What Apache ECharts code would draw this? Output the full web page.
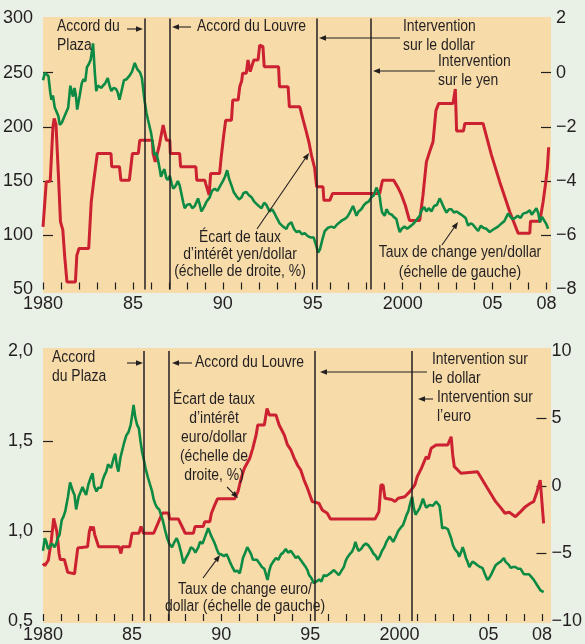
<!DOCTYPE html>
<html>
<head>
<meta charset="utf-8">
<script src="https://cdn.jsdelivr.net/npm/echarts@6/dist/echarts.min.js"></script>
<style>
  html, body { margin: 0; padding: 0; background: #e9f1e6; }
  #chart { width: 585px; height: 644px; }
</style>
</head>
<body>
<div id="chart"></div>
<script>
// yen/dollar exchange rate (left scale) [year, yen per dollar]
const yenFx = [
  [1980.00,243],[1980.10,250],[1980.19,249],[1980.30,247],[1980.40,232],[1980.47,225],[1980.55,229],[1980.65,218],
  [1980.75,214],[1980.85,210],[1980.93,202],[1981.05,204],[1981.20,210],[1981.40,218],[1981.52,238],[1981.60,232],
  [1981.67,228],[1981.75,236],[1981.82,230],[1981.90,216],[1982.04,229],[1982.15,240],[1982.25,244],[1982.35,242],
  [1982.44,255],[1982.55,258],[1982.65,262],[1982.78,277],[1982.88,250],[1982.96,233],[1983.05,238],[1983.15,239],
  [1983.25,236],[1983.33,238],[1983.45,240],[1983.60,245],[1983.70,238],[1983.80,233],[1983.92,236],[1984.06,235],
  [1984.15,232],[1984.25,225],[1984.35,232],[1984.50,243],[1984.65,244],[1984.80,247],[1984.95,251],[1985.10,259],
  [1985.25,253],[1985.40,250],[1985.50,245],[1985.64,225],[1985.75,213],[1985.83,207],[1986.00,195],[1986.10,185],
  [1986.20,174],[1986.30,176],[1986.40,169],[1986.50,160],[1986.56,154],[1986.65,158],[1986.75,161],[1986.85,153],
  [1986.94,151],[1987.05,155],[1987.15,148],[1987.24,143],[1987.35,145],[1987.50,150],[1987.60,146],[1987.70,138],
  [1987.80,130],[1987.88,125],[1988.00,128],[1988.16,129],[1988.30,125],[1988.44,127],[1988.62,134],[1988.72,128],
  [1988.81,122],[1988.95,126],[1989.09,131],[1989.27,135],[1989.40,141],[1989.55,143],[1989.70,141],[1989.83,145],
  [1990.00,150],[1990.12,154],[1990.24,160],[1990.35,152],[1990.48,146],[1990.60,140],[1990.76,136],[1990.90,133],
  [1991.04,135],[1991.15,139],[1991.31,140],[1991.45,137],[1991.60,135],[1991.75,131],[1991.87,129],[1992.00,127],
  [1992.15,125],[1992.30,130],[1992.42,128],[1992.60,122],[1992.75,124],[1992.88,120],[1993.00,116],[1993.16,111],
  [1993.35,108],[1993.53,106],[1993.65,110],[1993.81,112],[1993.95,106],[1994.09,103],[1994.25,104],[1994.40,101],
  [1994.55,102],[1994.74,99],[1994.90,98],[1995.05,98],[1995.20,90],[1995.30,84],[1995.40,87],[1995.55,97],
  [1995.67,104],[1995.85,107],[1996.04,108],[1996.20,107],[1996.35,110],[1996.50,112],[1996.65,114],[1996.78,115],
  [1996.92,117],[1997.06,121],[1997.24,127],[1997.35,122],[1997.43,118],[1997.55,122],[1997.70,124],[1997.85,128],
  [1997.98,130],[1998.10,131],[1998.26,135],[1998.40,137],[1998.54,144],[1998.65,140],[1998.73,135],[1998.80,126],
  [1998.86,121],[1999.00,118],[1999.10,124],[1999.25,120],[1999.40,119],[1999.50,117],[1999.65,115],[1999.75,108],
  [1999.84,103],[1999.95,106],[2000.10,108],[2000.25,106],[2000.40,108],[2000.55,110],[2000.67,112],[2000.85,116],
  [2000.95,118],[2001.05,123],[2001.20,126],[2001.32,122],[2001.45,125],[2001.60,122],[2001.75,127],[2001.90,128],
  [2002.06,134],[2002.15,131],[2002.28,126],[2002.44,121],[2002.58,124],[2002.71,124],[2002.85,121],[2003.00,122],
  [2003.17,120],[2003.35,118],[2003.50,116],[2003.64,109],[2003.78,111],[2003.90,110],[2004.05,107],[2004.20,104],
  [2004.35,109],[2004.47,107],[2004.65,106],[2004.84,103],[2004.95,104],[2005.10,106],[2005.30,108],[2005.50,111],
  [2005.65,113],[2005.86,120],[2006.00,117],[2006.10,115],[2006.25,116],[2006.40,118],[2006.55,116],[2006.70,120],
  [2006.90,121],[2007.07,123],[2007.18,119],[2007.26,118],[2007.44,125],[2007.55,120],[2007.63,112],[2007.75,117],
  [2007.85,116],[2008.00,110],[2008.09,106]
];

// yen/dollar interest rate differential (right scale, %)
const yenDiff = [
  [1980.00,-5.69],[1980.10,-5.70],[1980.18,-4.03],[1980.40,-4.00],[1980.55,-2.0],[1980.62,-1.69],[1980.72,-1.9],
  [1980.85,-3.7],[1980.97,-5.5],[1981.10,-5.8],[1981.20,-6.74],[1981.33,-7.72],[1981.80,-7.72],[1981.88,-6.74],
  [1982.00,-6.49],[1982.54,-6.49],[1982.68,-4.77],[1982.80,-4.1],[1983.02,-2.98],[1983.78,-2.98],[1983.82,-3.47],
  [1984.25,-3.47],[1984.33,-3.97],[1984.80,-3.97],[1984.97,-2.98],[1985.30,-2.98],[1985.38,-2.49],[1986.08,-2.49],
  [1986.12,-2.98],[1986.24,-3.29],[1986.45,-2.73],[1986.68,-1.93],[1986.86,-2.49],[1987.05,-2.49],[1987.08,-2.98],
  [1987.60,-2.98],[1987.65,-3.47],[1988.50,-3.47],[1988.55,-3.97],[1989.00,-3.97],[1989.05,-4.1],[1989.24,-4.52],
  [1989.32,-3.72],[1989.82,-3.72],[1989.90,-3.17],[1990.05,-2.3],[1990.16,-1.75],[1990.48,-1.75],[1990.55,-1.01],
  [1990.85,-1.01],[1990.94,-0.52],[1991.05,-0.3],[1991.10,-0.02],[1991.30,-0.02],[1991.40,0.47],[1991.52,0.04],
  [1991.62,0.1],[1991.72,0.47],[1991.96,0.47],[1992.05,1.02],[1992.23,0.96],[1992.30,0.22],[1993.10,0.22],
  [1993.15,-0.52],[1993.63,-0.52],[1993.70,-1.26],[1994.28,-1.26],[1994.47,-1.75],[1994.65,-2.2],[1994.80,-2.6],
  [1994.93,-3.05],[1995.10,-3.5],[1995.22,-4.21],[1995.57,-4.21],[1995.62,-4.71],[1995.95,-4.71],[1996.10,-4.46],
  [1998.72,-4.46],[1998.88,-3.97],[1999.50,-3.97],[1999.75,-4.25],[1999.93,-4.5],[2000.15,-4.9],[2000.38,-5.45],
  [2000.95,-5.45],[2001.13,-4.52],[2001.32,-3.29],[2001.50,-2.92],[2001.69,-2.55],[2001.85,-1.4],[2002.00,-1.14],
  [2002.80,-1.14],[2002.93,-0.6],[2003.00,-2.15],[2003.38,-2.15],[2003.46,-1.87],[2004.47,-1.87],[2004.94,-3.04],
  [2005.40,-4.03],[2005.96,-5.14],[2006.42,-5.92],[2007.07,-5.92],[2007.11,-5.48],[2007.63,-5.48],[2007.81,-4.77],
  [2007.96,-4.03],[2008.05,-3.5],[2008.12,-2.75]
];

// euro/dollar exchange rate (left scale)
const euroFx = [
  [1980.00,0.89],[1980.10,0.96],[1980.19,0.94],[1980.28,0.90],[1980.37,0.91],[1980.50,0.93],[1980.65,0.91],[1980.74,0.93],
  [1980.83,0.96],[1980.93,0.98],[1981.05,1.06],[1981.15,1.08],[1981.25,1.11],[1981.40,1.19],[1981.52,1.27],[1981.58,1.26],
  [1981.68,1.22],[1981.77,1.20],[1981.86,1.12],[1982.00,1.19],[1982.12,1.22],[1982.22,1.245],[1982.32,1.22],[1982.42,1.20],
  [1982.55,1.26],[1982.69,1.30],[1982.78,1.32],[1982.87,1.25],[1983.00,1.22],[1983.10,1.24],[1983.25,1.24],[1983.34,1.28],
  [1983.45,1.31],[1983.55,1.33],[1983.65,1.37],[1983.71,1.37],[1983.82,1.35],[1983.95,1.40],[1984.05,1.43],[1984.15,1.36],
  [1984.23,1.33],[1984.35,1.41],[1984.45,1.45],[1984.55,1.49],[1984.67,1.53],[1984.80,1.55],[1984.92,1.59],[1985.00,1.64],
  [1985.08,1.70],[1985.18,1.63],[1985.28,1.59],[1985.38,1.57],[1985.47,1.50],[1985.56,1.44],[1985.65,1.40],[1985.75,1.35],
  [1985.88,1.30],[1986.03,1.25],[1986.12,1.22],[1986.20,1.18],[1986.30,1.15],[1986.40,1.13],[1986.52,1.12],[1986.62,1.09],
  [1986.72,1.06],[1986.86,1.00],[1986.97,0.96],[1987.08,0.93],[1987.24,0.91],[1987.38,0.94],[1987.50,0.96],[1987.62,0.93],
  [1987.75,0.88],[1987.88,0.82],[1988.02,0.85],[1988.16,0.875],[1988.30,0.91],[1988.44,0.90],[1988.55,0.88],[1988.62,0.87],
  [1988.72,0.91],[1988.81,0.94],[1988.95,0.93],[1989.10,0.97],[1989.27,1.015],[1989.37,0.99],[1989.45,0.97],[1989.55,0.95],
  [1989.64,0.93],[1989.75,0.90],[1989.85,0.875],[1990.00,0.87],[1990.15,0.86],[1990.30,0.87],[1990.40,0.85],[1990.48,0.83],
  [1990.62,0.80],[1990.76,0.775],[1990.90,0.78],[1991.04,0.765],[1991.12,0.80],[1991.22,0.85],[1991.35,0.88],[1991.46,0.91],
  [1991.58,0.89],[1991.68,0.87],[1991.78,0.84],[1991.87,0.83],[1992.00,0.84],[1992.15,0.82],[1992.28,0.80],[1992.42,0.79],
  [1992.52,0.755],[1992.60,0.728],[1992.70,0.78],[1992.79,0.81],[1992.92,0.83],[1993.07,0.85],[1993.20,0.84],[1993.35,0.87],
  [1993.48,0.88],[1993.62,0.90],[1993.75,0.88],[1993.90,0.89],[1994.05,0.87],[1994.18,0.85],[1994.30,0.86],[1994.45,0.84],
  [1994.60,0.82],[1994.74,0.80],[1994.85,0.78],[1994.93,0.755],[1995.05,0.74],[1995.20,0.71],[1995.35,0.72],[1995.50,0.73],
  [1995.62,0.72],[1995.76,0.755],[1995.90,0.75],[1996.04,0.76],[1996.18,0.77],[1996.32,0.783],[1996.45,0.77],[1996.60,0.755],
  [1996.75,0.78],[1996.88,0.80],[1996.97,0.83],[1997.06,0.85],[1997.20,0.87],[1997.34,0.885],[1997.45,0.91],[1997.53,0.94],
  [1997.62,0.91],[1997.70,0.89],[1997.85,0.90],[1997.98,0.92],[1998.12,0.93],[1998.26,0.92],[1998.40,0.90],[1998.54,0.875],
  [1998.68,0.86],[1998.78,0.84],[1998.90,0.86],[1999.00,0.885],[1999.15,0.91],[1999.27,0.94],[1999.38,0.95],[1999.45,0.97],
  [1999.55,0.955],[1999.65,0.94],[1999.80,0.97],[1999.93,1.00],[2000.08,1.02],[2000.20,1.033],[2000.30,1.06],[2000.40,1.09],
  [2000.50,1.11],[2000.58,1.144],[2000.65,1.17],[2000.71,1.19],[2000.80,1.13],[2000.90,1.09],[2001.00,1.10],[2001.13,1.126],
  [2001.22,1.15],[2001.32,1.18],[2001.42,1.15],[2001.50,1.13],[2001.60,1.12],[2001.69,1.144],[2001.80,1.15],[2001.88,1.14],
  [2001.97,1.15],[2002.06,1.163],[2002.15,1.16],[2002.25,1.14],[2002.33,1.08],[2002.40,1.015],[2002.52,1.02],[2002.62,1.015],
  [2002.72,1.01],[2002.80,1.00],[2002.90,0.96],[2003.00,0.922],[2003.10,0.90],[2003.17,0.91],[2003.27,0.88],[2003.35,0.857],
  [2003.45,0.88],[2003.55,0.91],[2003.65,0.88],[2003.73,0.85],[2003.82,0.83],[2003.92,0.80],[2004.02,0.81],[2004.10,0.83],
  [2004.25,0.82],[2004.38,0.81],[2004.52,0.80],[2004.66,0.795],[2004.80,0.76],[2004.94,0.728],[2005.04,0.74],[2005.13,0.755],
  [2005.25,0.78],[2005.40,0.81],[2005.52,0.82],[2005.68,0.83],[2005.86,0.85],[2005.95,0.83],[2006.05,0.82],[2006.15,0.81],
  [2006.24,0.795],[2006.38,0.80],[2006.51,0.80],[2006.65,0.79],[2006.80,0.79],[2006.90,0.78],[2006.98,0.76],[2007.10,0.76],
  [2007.26,0.76],[2007.40,0.745],[2007.53,0.73],[2007.62,0.72],[2007.72,0.70],[2007.82,0.685],[2007.90,0.672],[2008.00,0.67],
  [2008.09,0.66]
];

// euro/dollar interest rate differential (right scale, %)
const euroDiff = [
  [1980.00,-5.73],[1980.10,-5.9],[1980.20,-5.98],[1980.30,-5.5],[1980.47,-4.0],[1980.60,-2.4],[1980.65,-2.5],[1980.78,-3.4],
  [1980.90,-5.0],[1980.97,-5.45],[1981.20,-5.45],[1981.39,-6.4],[1981.77,-6.5],[1981.95,-4.6],[1982.50,-4.5],[1982.60,-3.38],
  [1982.68,-3.0],[1982.75,-3.3],[1982.82,-3.0],[1982.90,-3.6],[1983.00,-3.5],[1983.12,-4.5],[1984.27,-4.5],[1984.37,-5.0],
  [1984.45,-4.5],[1984.86,-4.5],[1985.00,-3.5],[1985.38,-3.5],[1985.50,-3.0],[1985.64,-3.5],[1986.21,-3.5],[1986.49,-2.64],
  [1986.70,-2.0],[1987.05,-2.0],[1987.10,-2.45],[1987.60,-2.45],[1987.80,-3.0],[1987.98,-3.5],[1988.44,-3.5],[1988.53,-3.0],
  [1988.99,-3.0],[1989.08,-2.64],[1989.36,-2.64],[1989.45,-2.02],[1989.64,-1.4],[1989.79,-0.95],[1990.75,-0.95],[1990.94,-0.42],
  [1991.12,0.57],[1991.30,1.31],[1991.60,2.05],[1991.77,2.79],[1991.96,3.78],[1992.05,4.52],[1992.42,4.52],[1992.57,5.75],
  [1992.70,5.26],[1993.07,5.26],[1993.25,4.52],[1993.54,3.78],[1993.72,3.04],[1993.90,2.7],[1994.10,2.05],[1994.30,1.5],
  [1994.46,1.19],[1994.65,0.44],[1994.84,-0.17],[1995.11,-1.16],[1995.48,-1.28],[1995.67,-1.78],[1995.95,-2.02],[1996.13,-2.45],
  [1998.63,-2.45],[1998.85,-1.9],[1998.96,0.07],[1999.08,0.07],[1999.19,-0.91],[1999.56,-1.0],[1999.75,-1.15],[1999.93,-0.91],
  [2000.30,-0.8],[2000.58,-0.42],[2000.86,0.07],[2001.00,0.69],[2001.23,1.31],[2001.50,2.17],[2001.62,2.0],[2001.78,2.79],
  [2002.06,3.04],[2002.71,3.04],[2002.90,3.65],[2002.99,2.3],[2003.08,1.43],[2003.27,1.19],[2003.45,0.94],[2003.55,1.05],
  [2004.38,1.05],[2004.94,-0.17],[2005.40,-1.16],[2005.68,-1.6],[2005.92,-2.02],[2006.16,-1.95],[2006.51,-2.27],[2006.80,-1.9],
  [2007.07,-1.53],[2007.35,-1.28],[2007.53,-1.16],[2007.72,-0.42],[2007.90,0.44],[2008.00,0.3],[2008.09,-2.77]
];

// event dates (vertical lines)
const topEvents = [1985.64, 1987.07, 1995.24, 1998.22];
const bottomEvents = [1985.64, 1987.07, 1995.24, 2000.67];

const yearLabels = {1980: '1980', 1985: '85', 1990: '90', 1995: '95', 2000: '2000', 2005: '05', 2008: '08'};
const yearTicks = [];
for (let y = 1980; y <= 2008; y++) yearTicks.push(y);

const INK = '#231f20';
const RED = '#cc2131';
const GREEN = '#0d8a43';
const TAN = '#f7dcaa';
const FONT = '"Liberation Sans", Arial, sans-serif';

const chart = echarts.init(document.getElementById('chart'), null, {renderer: 'canvas'});

function xAxisFor(gridIndex) {
  return {
    type: 'value', gridIndex: gridIndex, min: 1980, max: 2008.25,
    axisLine: {show: false, onZero: false},
    axisTick: {show: true, inside: true, length: 7, customValues: yearTicks, lineStyle: {color: INK, width: 1.2}},
    axisLabel: {
      customValues: Object.keys(yearLabels).map(Number),
      formatter: v => yearLabels[v] || '',
      fontFamily: FONT, fontSize: 18, color: INK, margin: gridIndex === 0 ? 6 : 5
    },
    splitLine: {show: false}
  };
}

function yAxisFor(gridIndex, pos, min, max, interval, ticks, fmt) {
  return {
    type: 'value', gridIndex: gridIndex, position: pos, min: min, max: max, interval: interval,
    axisLine: {show: false, onZero: false},
    axisTick: {show: true, inside: true, length: 10, customValues: ticks, lineStyle: {color: INK, width: 1.2}},
    axisLabel: {fontFamily: FONT, fontSize: 18, color: INK, margin: pos === 'left' ? 10 : 5, formatter: fmt},
    splitLine: {show: false}
  };
}

const minus = v => String(v).replace('-', '\u2212');

function eventLines(dates) {
  return {
    silent: true, symbol: ['none', 'none'], animation: false,
    label: {show: false},
    lineStyle: {color: INK, width: 1.5, type: 'solid'},
    data: dates.map(d => ({xAxis: d}))
  };
}

// annotation helpers (pixel positions), condensed by horizontal scaling
function note(x, y, text, align, lh) {
  return {
    type: 'text', x: x, y: y - lh / 2, z: 100, scaleX: 0.87,
    style: {text: text, font: '16px ' + FONT, fill: INK, align: align, verticalAlign: 'top', lineHeight: lh}
  };
}
function arrow(x1, y1, x2, y2) {
  const a = Math.atan2(y2 - y1, x2 - x1), L = 7, W = 2.8;
  const bx = x2 - L * Math.cos(a), by = y2 - L * Math.sin(a);
  const px = -Math.sin(a) * W, py = Math.cos(a) * W;
  return [
    {type: 'line', z: 100, shape: {x1: x1, y1: y1, x2: bx, y2: by}, style: {stroke: INK, lineWidth: 1.1}},
    {type: 'polygon', z: 100, shape: {points: [[x2, y2], [bx + px, by + py], [bx - px, by - py]]}, style: {fill: INK}}
  ];
}

const graphics = [
  {type: 'rect', z: -10, shape: {x: 43, y: 17, width: 508, height: 276}, style: {fill: TAN}},
  {type: 'rect', z: -10, shape: {x: 43, y: 348, width: 508, height: 275}, style: {fill: TAN}},
  // top panel
  note(57, 27, 'Accord du\nPlaza', 'left', 19),
  ...arrow(127, 29, 143, 29),
  ...arrow(191, 27, 172, 27),
  note(197, 27, 'Accord du Louvre', 'left', 19),
  note(403, 27, 'Intervention\nsur le dollar', 'left', 19),
  ...arrow(400, 38, 319, 38),
  note(438, 62, 'Intervention\nsur le yen', 'left', 19),
  ...arrow(435, 71, 373, 71),
  note(240, 238, '\u00c9cart de taux\nd\u2019int\u00e9r\u00eat yen/dollar\n(\u00e9chelle de droite, %)', 'center', 17),
  ...arrow(257, 229, 309, 153),
  note(460, 253, 'Taux de change yen/dollar\n(\u00e9chelle de gauche)', 'center', 20),
  ...arrow(442, 245, 458, 222),
  // bottom panel
  note(52, 358, 'Accord\ndu Plaza', 'left', 19),
  ...arrow(127, 363, 143, 363),
  ...arrow(192, 363, 172, 363),
  note(195, 363, 'Accord du Louvre', 'left', 19),
  note(214, 400, '\u00c9cart de taux\nd\u2019int\u00e9r\u00eat\neuro/dollar\n(\u00e9chelle de\ndroite, %)', 'center', 19),
  ...arrow(227, 487, 238, 498),
  note(245, 590, 'Taux de change euro/\ndollar (\u00e9chelle de gauche)', 'center', 17),
  ...arrow(203, 578, 220, 555),
  note(432, 360, 'Intervention sur\nle dollar', 'left', 19),
  ...arrow(427, 372, 320, 372),
  note(437, 398, 'Intervention sur\nl\u2019euro', 'left', 19),
  ...arrow(433, 399, 418, 399)
];

const option = {
  backgroundColor: '#e9f1e6',
  animation: false,
  grid: [
    {left: 43, top: 18.5, width: 508, height: 271},
    {left: 43, top: 351, width: 508, height: 270}
  ],
  xAxis: [xAxisFor(0), xAxisFor(1)],
  yAxis: [
    yAxisFor(0, 'left', 50, 300, 50, [100, 150, 200, 250]),
    yAxisFor(0, 'right', -8, 2, 2, [-6, -4, -2, 0], minus),
    yAxisFor(1, 'left', 0.5, 2.0, 0.5, [1.0, 1.5], v => v.toFixed(1).replace('.', ',')),
    yAxisFor(1, 'right', -10, 10, 5, [-5, 0, 5], minus)
  ],
  series: [
    {
      name: 'Taux de change yen/dollar', type: 'line', xAxisIndex: 0, yAxisIndex: 0,
      data: yenFx, showSymbol: false, lineStyle: {color: GREEN, width: 2.6}, z: 3,
      markLine: eventLines(topEvents)
    },
    {
      name: '\u00c9cart de taux yen/dollar', type: 'line', xAxisIndex: 0, yAxisIndex: 1,
      data: yenDiff, showSymbol: false, lineStyle: {color: RED, width: 3}, z: 2
    },
    {
      name: 'Taux de change euro/dollar', type: 'line', xAxisIndex: 1, yAxisIndex: 2,
      data: euroFx, showSymbol: false, lineStyle: {color: GREEN, width: 2.6}, z: 3,
      markLine: eventLines(bottomEvents)
    },
    {
      name: '\u00c9cart de taux euro/dollar', type: 'line', xAxisIndex: 1, yAxisIndex: 3,
      data: euroDiff, showSymbol: false, lineStyle: {color: RED, width: 3}, z: 2
    }
  ],
  graphic: graphics
};

chart.setOption(option);
</script>
</body>
</html>
